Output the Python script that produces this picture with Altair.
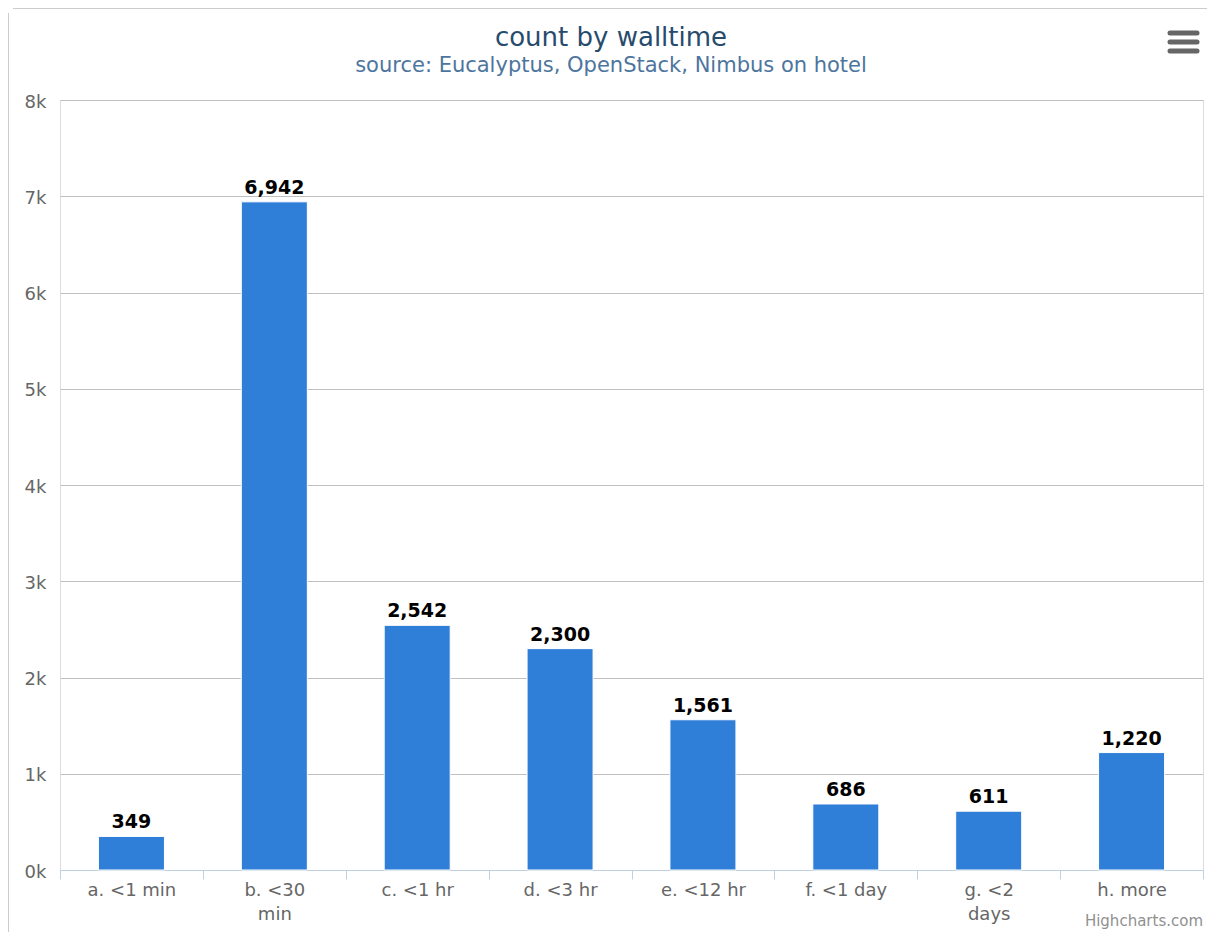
import altair as alt
import pandas as pd

categories = ["a. <1 min", "b. <30 min", "c. <1 hr", "d. <3 hr",
              "e. <12 hr", "f. <1 day", "g. <2 days", "h. more"]
counts = [349, 6942, 2542, 2300, 1561, 686, 611, 1220]
y_ticks = [0, 1000, 2000, 3000, 4000, 5000, 6000, 7000, 8000]
title_text = "count by walltime"
subtitle_text = "source: Eucalyptus, OpenStack, Nimbus on hotel"
credit_text = "Highcharts.com"

df = pd.DataFrame({"category": categories, "count": counts})

FONT = "DejaVu Sans"
W, H = 1143, 770

x_enc = alt.X(
    "category:N", sort=categories, title=None,
    scale=alt.Scale(paddingInner=0, paddingOuter=0),
    axis=alt.Axis(
        labelAngle=0, labelFont=FONT, labelFontSize=18, labelColor="#666666",
        labelExpr="datum.label == 'b. <30 min' ? ['b. <30', 'min'] : datum.label == 'g. <2 days' ? ['g. <2', 'days'] : datum.label",
        labelLineHeight=24, labelPadding=2, labelBaseline="top",
        tickBand="extent", tickSize=9, tickColor="#C0D0E0", tickWidth=1,
        domainColor="#C0D0E0", domainWidth=1, grid=False,
    ),
)
y_enc = alt.Y(
    "count:Q", title=None,
    scale=alt.Scale(domain=[0, 8000], nice=False),
    axis=alt.Axis(
        values=y_ticks, labelExpr="(datum.value / 1000) + 'k'",
        labelFont=FONT, labelFontSize=18, labelColor="#666666",
        labelPadding=14, labelOffset=2, ticks=False, domain=False,
        grid=True, gridColor="#C0C0C0", gridWidth=1,
    ),
)

bars = alt.Chart(df).mark_bar(
    size=66, color="#2f7ed8", stroke="#ffffff", strokeWidth=1
).encode(x=x_enc, y=y_enc)

labels = alt.Chart(df).mark_text(
    font=FONT, fontSize=19, fontWeight="bold", color="#000000",
    baseline="alphabetic", dy=-8
).encode(
    x=alt.X("category:N", sort=categories),
    y=alt.Y("count:Q"),
    text=alt.Text("count:Q", format=","),
)

deco = pd.DataFrame({"k": [0]})
title = alt.Chart(deco).mark_text(
    font=FONT, fontSize=26, color="#274b6d", align="center", baseline="alphabetic"
).encode(x=alt.value(551), y=alt.value(-54), text=alt.value(title_text))
subtitle = alt.Chart(deco).mark_text(
    font=FONT, fontSize=21, color="#4d759e", align="center", baseline="alphabetic"
).encode(x=alt.value(551), y=alt.value(-28), text=alt.value(subtitle_text))
credit = alt.Chart(deco).mark_text(
    font=FONT, fontSize=15, color="#909090", align="right", baseline="alphabetic"
).encode(x=alt.value(W), y=alt.value(826), text=alt.value(credit_text))

menu = alt.Chart(pd.DataFrame({"yy": [-67, -58, -49]})).mark_rule(
    color="#666666", strokeWidth=5, strokeCap="round"
).encode(x=alt.value(1110), x2=alt.value(1137), y=alt.Y("yy:Q", scale=None))

border_top = alt.Chart(deco).mark_rule(color="#cccccc", strokeWidth=1).encode(
    x=alt.value(-47), x2=alt.value(W + 10), y=alt.value(-91.5))
border_left = alt.Chart(deco).mark_rule(color="#cccccc", strokeWidth=1).encode(
    x=alt.value(-51.5), y=alt.value(-87), y2=alt.value(H + 62))

chart = alt.layer(bars, labels, title, subtitle, credit, menu, border_top, border_left).properties(
    width=W, height=H,
    autosize=alt.AutoSizeParams(type="none"),
    padding={"left": 52, "top": 92, "right": 4, "bottom": 62},
).configure_view(stroke=None).configure(background="#ffffff")

chart.save("out.html", embed_options={"renderer": "svg", "actions": False})
